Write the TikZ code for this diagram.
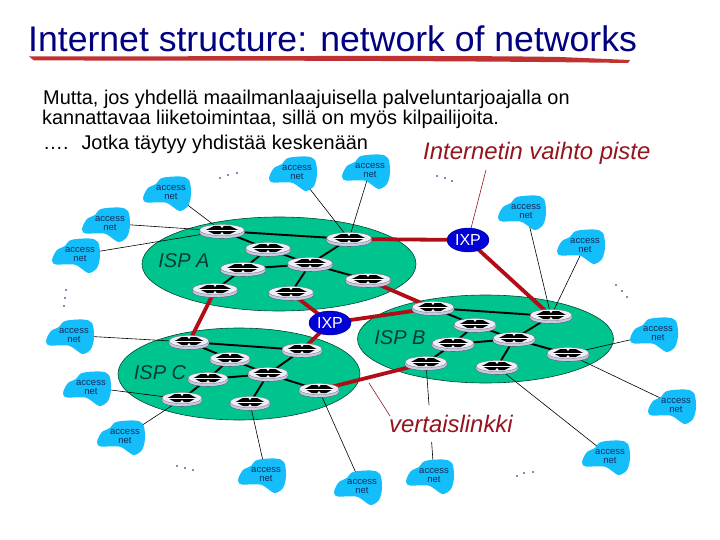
\documentclass[tikz,border=0pt]{standalone}
\usepackage{fontspec}
\setmainfont{Liberation Sans}
\definecolor{navy}{RGB}{0,0,128}
\definecolor{brush}{RGB}{190,50,50}
\definecolor{ispgreen}{RGB}{0,196,142}
\definecolor{ispedge}{RGB}{0,70,50}
\definecolor{ispink}{RGB}{8,60,50}
\definecolor{cloudblue}{RGB}{20,190,250}
\definecolor{cloudink}{RGB}{15,45,95}
\definecolor{linkred}{RGB}{178,12,22}
\definecolor{callred}{RGB}{150,20,30}
\definecolor{ixpblue}{RGB}{0,0,215}
\definecolor{rside}{RGB}{200,200,232}
\definecolor{rtop}{RGB}{238,238,248}
\definecolor{dotc}{RGB}{10,20,110}
\pgfdeclarelayer{isp}
\pgfdeclarelayer{links}
\pgfsetlayers{isp,links,main}
\newcommand\fsz[1]{\fontsize{#1pt}{#1pt}\selectfont}
\usetikzlibrary{shapes.geometric}
\tikzset{
  ispshape/.style={fill=ispgreen,draw=ispedge,line width=0.6pt},
  isplabel/.style={font=\fsz{20}\itshape,text=ispink,inner sep=0pt},
  bodytext/.style={font=\fsz{19.9},anchor=base west,inner sep=0pt},
  calltext/.style={font=\fsz{23.9}\itshape,text=callred,inner sep=0pt},
  cloudtext/.style={font=\fsz{9.5},text=cloudink,align=center,inner sep=0pt},
  rtnode/.style={inner sep=0pt,minimum size=1pt},
  ixpnode/.style={ellipse,fill=ixpblue,draw=ixpblue!70!black,line width=0.4pt,minimum width=42pt,minimum height=24pt,inner sep=0pt,text=white,font=\fsz{16}},
  core/.style={line width=1.9pt,black},
  peer/.style={line width=3.8pt,linkred},
  tail/.style={line width=0.6pt,black},
  callout/.style={line width=0.6pt,callred},
}
\newcommand\acc[3]{%
  \fill[cloudblue,shift={(#2,#3)}] plot[smooth cycle,tension=0.55] coordinates
    {(-23.5,2) (-19,-6) (-11,-10) (-5,-16) (13,-17.5) (22,-14) (24,0) (21,12) (13,17) (6,13) (-2,8.5) (-20,8.5) (-23.5,6)};
  \node[cloudtext] (#1) at (#2+4,#3-1.5) {access\\net};}
\newcommand\rtr[4]{%
  \begin{scope}[shift={(#2,#3)}]
    \fill[rside,draw=black!70,line width=0.3pt] (-#4,-1) -- (-#4,2.2) arc[start angle=180,end angle=360,x radius=#4 pt,y radius=5.2pt] -- (#4,-1) -- cycle;
    \fill[rtop,draw=black!60,line width=0.3pt] (0,-1) circle[x radius=#4 pt,y radius=5.6pt];
    \fill[black] (-0.72*#4,-1) -- (-0.36*#4,-5) -- (0.36*#4,-5) -- (0.72*#4,-1) -- (0.36*#4,3) -- (-0.36*#4,3) -- cycle;
    \fill[white] (-2,-5.6) -- (2,-5.6) -- (0,-3) -- cycle;
    \fill[white] (-2,3.4) -- (2,3.4) -- (0,1) -- cycle;
    \draw[white,line width=0.5pt] (-0.72*#4,-1) -- (0.72*#4,-1);
  \end{scope}
  \node[rtnode] (#1) at (#2,#3) {};}
\begin{document}
\begin{tikzpicture}[x=1pt,y=-1pt]
\useasboundingbox (0,0) rectangle (720,540);
% title
\node[font=\fsz{35.6},text=navy,anchor=base west,inner sep=0pt] (title) at (28,52) {Internet structure: network of networks};
\fill[brush] (29,56.5) .. controls (200,56.5) and (450,55) .. (560,57) -- (630,60) -- (628,63) .. controls (450,60.5) and (200,60.5) .. (34,60.5) -- cycle;
% body
\node[bodytext] (l1) at (43,105) {Mutta, jos yhdellä maailmanlaajuisella palveluntarjoajalla on};
\node[bodytext] (l2) at (42,125) {kannattavaa liiketoimintaa, sillä on myös kilpailijoita.};
\node[bodytext] (l3) at (43,150) {…. \ Jotka täytyy yhdistää keskenään};
\node[calltext,anchor=base west] (vaihto) at (423,160) {Internetin vaihto piste};
% ISP clouds
\begin{pgfonlayer}{isp}
  \draw[ispshape] (279,264) circle[x radius=137pt,y radius=47pt];
  \draw[ispshape] (485.5,339) circle[x radius=128pt,y radius=44pt];
  \draw[ispshape] (239,374) circle[x radius=121pt,y radius=46pt];
\end{pgfonlayer}
\node[isplabel] (ispa) at (184,261) {ISP A};
\node[isplabel] (ispb) at (400,338) {ISP B};
\node[isplabel] (ispc) at (160,373) {ISP C};
% routers
\rtr{a1}{222}{231}{22.5}
\rtr{a2}{268}{249}{22.5}
\rtr{a3}{243}{269}{22.5}
\rtr{a4}{310}{264}{22.5}
\rtr{a5}{215}{290}{22.5}
\rtr{a6}{291}{293}{22.5}
\rtr{a7}{349}{239}{22.5}
\rtr{a8}{368}{280}{22.5}
\rtr{b1}{433}{308}{21}
\rtr{b2}{551}{316}{21}
\rtr{b3}{475}{325}{21}
\rtr{b4}{514}{339}{21}
\rtr{b5}{453}{344}{21}
\rtr{b6}{426}{363}{21}
\rtr{b7}{497}{367}{21}
\rtr{b8}{568}{354}{21}
\rtr{c1}{189}{342}{20}
\rtr{c2}{302}{350}{20}
\rtr{c3}{230}{359}{20}
\rtr{c4}{268}{374}{20}
\rtr{c5}{208}{379}{20}
\rtr{c6}{182}{399}{20}
\rtr{c7}{250}{403}{20}
\rtr{c8}{319}{390}{20}
% IXPs
\node[ixpnode] (ixp1) at (330,323) {IXP};
\node[ixpnode] (ixp2) at (468,240) {IXP};
% access nets
\acc{n1}{167}{194}
\acc{n2}{106}{225}
\acc{n3}{76}{256}
\acc{n4}{293}{174}
\acc{n5}{366}{172}
\acc{n6}{522}{213}
\acc{n7}{581}{247}
\acc{n8}{654}{335}
\acc{n9}{672}{407}
\acc{n10}{606}{458}
\acc{n11}{430}{477}
\acc{n12}{358}{488}
\acc{n13}{262}{476}
\acc{n14}{121}{438}
\acc{n15}{87}{389}
\acc{n16}{70}{337}
% peering label
\node[calltext,fill=white,minimum height=37pt,inner xsep=1pt] (peerlabel) at (451,423.5) {vertaislinkki};
\coordinate (ixpcall) at (486,170);
\coordinate (peercallA) at (390,416);
\coordinate (peercallB) at (369,383);
% connectors
\begin{pgfonlayer}{links}
  \foreach \p/\q in {a1/a7,a1/a2,a2/a3,a3/a5,a2/a4,a3/a4,a4/a7,a4/a8,a4/a6,
                     b1/b2,b1/b3,b3/b5,b5/b6,b3/b4,b5/b4,b4/b2,b4/b8,b4/b7,
                     c1/c2,c1/c3,c3/c4,c3/c5,c5/c4,c5/c6,c4/c2,c4/c8,c4/c7}
    \draw[core] (\p.center) -- (\q.center);
  \foreach \p/\q in {a5/c1,a6/ixp1,ixp1/c2,ixp1/b1,c8/b6,a7/ixp2,ixp2/b2,a8/b1}
    \draw[peer] (\p.center) -- (\q.center);
  \foreach \p/\q in {n1/a1,n2/a1,n3/a1,n4/a7,n5/a7,n6/b2,n7/b2,n8/b8,n9/b8,n10/b7,n11/b6,n12/c8,n13/c7,n14/c6,n15/c6,n16/c1}
    \draw[tail] (\p.center) -- (\q.center);
\end{pgfonlayer}
\draw[callout] (ixpcall) -- (ixp2);
\draw[callout] (peercallA) -- (peercallB);
% ellipsis dots
\foreach \x/\y in {220/178,228/175,237/173, 437/176,445/178,452/181, 66/290,65/298,64/306,
                   616/285,622/291,627/297, 177/466,185/468,193/470, 517/476,524/473,533/472}
  \fill[dotc] (\x,\y) circle[radius=0.9pt];
\end{tikzpicture}
\end{document}
